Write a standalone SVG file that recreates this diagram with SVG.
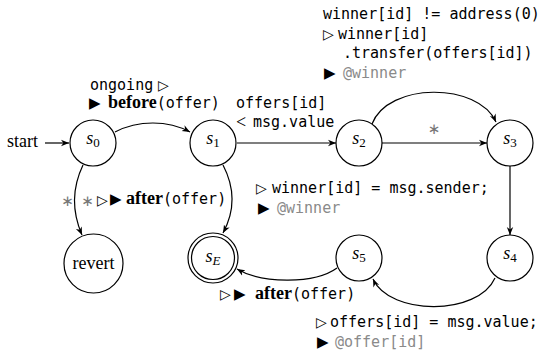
<svg xmlns="http://www.w3.org/2000/svg" width="557" height="358" viewBox="0 0 557 358">
<style>
.node{fill:#fff;stroke:#000;stroke-width:1.2}
.edge{fill:none;stroke:#000;stroke-width:1.2;marker-end:url(#ah)}
.lbl{font-family:"Liberation Serif",serif;font-size:18px;fill:#000}
.it{font-family:"Liberation Serif",serif;font-style:italic;font-size:18px;fill:#000}
.sub{font-size:13px;font-style:normal}
.subi{font-size:13px}
.mono{font-family:"DejaVu Sans Mono",monospace;font-size:15px;fill:#000}
.m{font-family:"DejaVu Sans Mono",monospace;font-size:15px;font-weight:normal}
.grey{fill:#8a8a8a}
.bold{font-family:"Liberation Serif",serif;font-weight:bold;font-size:18px;fill:#000}
.tri{font-family:"DejaVu Sans",sans-serif;font-size:14px;fill:#000}
.btri{font-family:"DejaVu Sans",sans-serif;font-size:15px;fill:#000}
.star{font-family:"DejaVu Sans",sans-serif;font-size:15px;fill:#777}
</style>
<defs>
<marker id="ah" viewBox="0 0 10 10" refX="10" refY="5" markerWidth="8" markerHeight="8" orient="auto" markerUnits="userSpaceOnUse">
<path d="M0,1 L10,5 L0,9 L3,5 z" fill="#000"/>
</marker>
</defs>

<g id="connectors">
<path class="edge" d="M45,143 L69,143"/>
<path class="edge" d="M115,132 C138,120 168,120 190,132"/>
<path class="edge" d="M237,143 L336,143"/>
<path class="edge" d="M382,143 L487,143"/>
<path class="edge" d="M372,124 C388,82 478,82 496,122"/>
<path class="edge" d="M510,166 L510,235"/>
<path class="edge" d="M495,278 C478,316 390,316 373,279"/>
<path class="edge" d="M337,268 C315,284 262,284 237,269"/>
<path class="edge" d="M83,165 C72,188 72,212 82,235"/>
<path class="edge" d="M223,165 C235,188 235,211 223,233"/>
</g>

<g id="start">
<text class="lbl" x="7" y="147">start</text>
</g>
<g id="s0">
<circle class="node" cx="93" cy="143" r="23"/>
<text class="it" x="93" y="144" text-anchor="middle">s<tspan class="sub" dy="3">0</tspan></text>
</g>
<g id="s1">
<circle class="node" cx="213" cy="143" r="23"/>
<text class="it" x="213" y="144" text-anchor="middle">s<tspan class="sub" dy="3">1</tspan></text>
</g>
<g id="s2">
<circle class="node" cx="359" cy="143" r="23"/>
<text class="it" x="359" y="144" text-anchor="middle">s<tspan class="sub" dy="3">2</tspan></text>
</g>
<g id="s3">
<circle class="node" cx="510" cy="143" r="23"/>
<text class="it" x="510" y="144" text-anchor="middle">s<tspan class="sub" dy="3">3</tspan></text>
</g>
<g id="s4">
<circle class="node" cx="510" cy="258" r="23"/>
<text class="it" x="510" y="259" text-anchor="middle">s<tspan class="sub" dy="3">4</tspan></text>
</g>
<g id="s5">
<circle class="node" cx="359" cy="258" r="23"/>
<text class="it" x="359" y="259" text-anchor="middle">s<tspan class="sub" dy="3">5</tspan></text>
</g>
<g id="sE">
<circle class="node" cx="213" cy="258" r="25"/>
<circle class="node" cx="213" cy="258" r="21.5"/>
<text class="it" x="213" y="262" text-anchor="middle">s<tspan class="subi" dy="3">E</tspan></text>
</g>
<g id="revert">
<circle class="node" cx="93.5" cy="263.5" r="29.5"/>
<text class="lbl" x="93.5" y="269" text-anchor="middle">revert</text>
</g>

<g id="labels">
<!-- s0 -> s1 -->
<text class="mono" x="90" y="90">ongoing</text>
<text class="tri" x="158" y="90">▷</text>
<text class="btri" x="89" y="108">▶</text>
<text class="bold" x="108" y="108">before<tspan class="m">(offer)</tspan></text>
<!-- s1 -> s2 -->
<text class="mono" x="236" y="108">offers[id]</text>
<text class="lbl" x="236" y="128">&lt;</text>
<text class="mono" x="253" y="127">msg.value</text>
<!-- s2 -> s3 curved -->
<text class="mono" x="323" y="19">winner[id] != address(0)</text>
<text class="tri" x="323" y="39">▷</text>
<text class="mono" x="338" y="39">winner[id]</text>
<text class="mono" x="343" y="58">.transfer(offers[id])</text>
<text class="btri" x="324" y="78">▶</text>
<text class="mono grey" x="343" y="78">@winner</text>
<!-- s2 -> s3 straight -->
<text class="star" x="434" y="134" text-anchor="middle">∗</text>
<!-- s0 -> revert -->
<text class="star" x="67.5" y="206" text-anchor="middle">∗</text>
<!-- s1 -> sE -->
<text class="star" x="87.5" y="206" text-anchor="middle">∗</text>
<text class="tri" x="97" y="205">▷</text>
<text class="btri" x="110" y="204">▶</text>
<text class="bold" x="126" y="204">after<tspan class="m">(offer)</tspan></text>
<!-- s3 -> s4 -->
<text class="tri" x="256" y="193">▷</text>
<text class="mono" x="272" y="193">winner[id] = msg.sender;</text>
<text class="btri" x="258" y="213">▶</text>
<text class="mono grey" x="277" y="213">@winner</text>
<!-- s5 -> sE -->
<text class="tri" x="220" y="299">▷</text>
<text class="btri" x="234" y="299">▶</text>
<text class="bold" x="255" y="299">after<tspan class="m">(offer)</tspan></text>
<!-- s4 -> s5 -->
<text class="tri" x="316" y="327">▷</text>
<text class="mono" x="330" y="327">offers[id] = msg.value;</text>
<text class="btri" x="317" y="347">▶</text>
<text class="mono grey" x="335" y="347">@offer[id]</text>
</g>
</svg>
